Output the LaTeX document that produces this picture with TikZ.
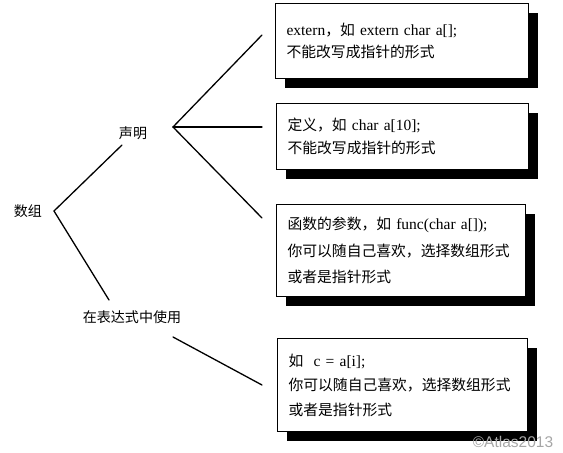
\documentclass[tikz,border=0pt]{standalone}
\usepackage{fontspec}
\setmainfont{Liberation Serif}
\newfontfamily\cjk[Scale=0.955]{Noto Sans CJK SC}
\newfontfamily\wmfont{Liberation Sans}
\usetikzlibrary{shadows}
\begin{document}
\begin{tikzpicture}[x=1pt,y=-1pt,
  box/.style n args={3}{draw, line width=1.1pt, fill=white, anchor=north west,
    inner xsep=11pt, inner ysep=0pt, align=left, text width=#1-22pt, minimum height=#2,
    font=\fontsize{15.5}{#3}\selectfont,
    drop shadow={shadow xshift=9pt, shadow yshift=-9pt, fill=black, opacity=1}},
  lbl/.style={font=\fontsize{14.7}{18}\selectfont\cjk, inner sep=0pt},
  conn/.style={line width=1.3pt, line cap=round}]
\useasboundingbox (0,0) rectangle (563,453);

% labels
\node[lbl] (shuzu) at (28,211) {数组};
\node[lbl] (shengming) at (133,133) {声明};
\node[lbl] (biaodashi) at (132,317) {在表达式中使用};

% boxes
\node[box={253pt}{75pt}{22pt}] (b1) at (275,3)
  {extern{\cjk ，如} extern char a[];\\{\cjk 不能改写成指针的形式}};
\node[box={252pt}{66pt}{23pt}] (b2) at (276,103)
  {{\cjk 定义，如} char a[10];\\{\cjk 不能改写成指针的形式}};
\node[box={249pt}{92pt}{26.5pt}] (b3) at (276,204)
  {{\cjk 函数的参数，如} func(char a[]);\\{\cjk 你可以随自己喜欢，选择数组形式}\\{\cjk 或者是指针形式}};
\node[box={250pt}{93pt}{24.5pt}] (b4) at (277,338)
  {{\cjk 如}\ \ c = a[i];\\{\cjk 你可以随自己喜欢，选择数组形式}\\{\cjk 或者是指针形式}};

% connector end points
\coordinate (szR) at (54,211);
\coordinate (smB) at (122,145);
\coordinate (bdsT) at (109,300);
\coordinate (smR) at (173,127);
\coordinate (e1) at (262,35);
\coordinate (e2) at (262,127);
\coordinate (e3) at (262,218);
\coordinate (bdsR) at (173,337);
\coordinate (e4) at (262,385);

\draw[conn] (smB) -- (szR) -- (bdsT);
\draw[conn] (e1) -- (smR) -- (e3);
\draw[conn] (smR) -- (e2);
\draw[conn] (bdsR) -- (e4);

% watermark
\node[font=\fontsize{15.5}{18}\selectfont\wmfont, text=black!35, inner sep=0pt] (wm) at (513,442) {©Atlas2013};
\end{tikzpicture}
\end{document}
